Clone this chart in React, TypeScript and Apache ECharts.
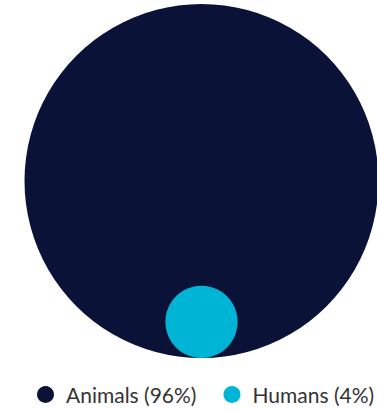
import React, { useEffect, useRef } from "react";
import * as echarts from "echarts";

const categories = ["Animals", "Humans"];
const percents = [96, 4];
const colors = ["#0a1238", "#00b4d6"];

export default function App() {
  const ref = useRef<HTMLDivElement>(null);
  useEffect(() => {
    if (!ref.current) return;
    const chart = echarts.init(ref.current, null, { renderer: "svg" });
    const maxR = 177;
    const maxV = Math.max(...percents);
    const series = categories.map((name, i) => {
      const r = maxR * Math.sqrt(percents[i] / maxV);
      return {
        type: "scatter",
        name,
        clip: false,
        symbol: "circle",
        symbolSize: 2 * r,
        itemStyle: { color: colors[i], opacity: 1 },
        emphasis: { disabled: true },
        data: [[0, r]],
      };
    });
    chart.setOption({
      animation: false,
      grid: { left: 26, right: 0, top: 4, bottom: 51 },
      xAxis: { type: "value", min: -1, max: 1, show: false },
      yAxis: { type: "value", min: 0, max: 354, show: false },
      legend: {
        top: 384,
        left: 37,
        icon: "circle",
        itemWidth: 17,
        itemHeight: 17,
        itemGap: 27,
        padding: 0,
        data: categories,
        formatter: (name: string) => `${name} (${percents[categories.indexOf(name)]}%)`,
        textStyle: { fontFamily: "Lato", fontSize: 21, color: "#333333", padding: [0, 0, 0, 7] },
      },
      series,
    });
    return () => chart.dispose();
  }, []);
  return <div ref={ref} style={{ width: 377, height: 409, position: "absolute", left: 0, top: 0 }} />;
}
